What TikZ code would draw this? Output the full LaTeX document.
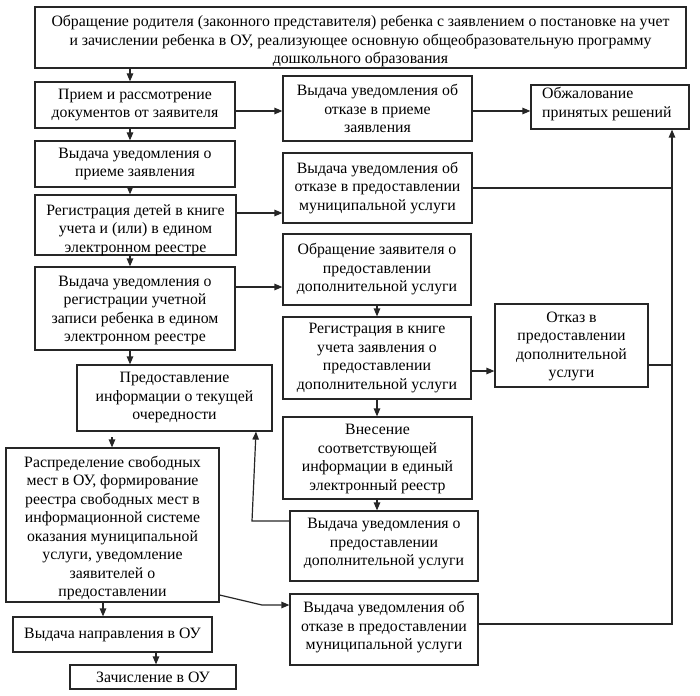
\documentclass[tikz,border=0pt]{standalone}
\usepackage{fontspec}
\setmainfont{Liberation Serif}
\usetikzlibrary{arrows.meta}
\tikzset{
  box/.style={draw=black!85, line width=1.2pt, inner sep=0pt, fill=none},
  txt/.style={align=center, inner sep=0pt, font=\fontsize{15.8}{18.5}\selectfont},
  txtl/.style={align=left, inner sep=0pt, anchor=west, font=\fontsize{15.8}{18.5}\selectfont},
  arr/.style={draw=black!85, line width=1.2pt, -{Triangle[length=8pt,width=6.5pt]}},
  ln/.style={draw=black!85, line width=1.2pt}
}
\newcommand\bx[7]{%
  \pgfmathsetmacro\bxw{#4-#2}\pgfmathsetmacro\bxh{#5-#3}%
  \pgfmathsetmacro\bxcx{(#2+#4)/2}\pgfmathsetmacro\bxcy{(#3+#5)/2}%
  \node[box,minimum width=\bxw pt,minimum height=\bxh pt] (#1) at (\bxcx,\bxcy) {};%
  \node[txt] (#1t) at (\bxcx,\bxcy+#6) {#7};}
\begin{document}
\begin{tikzpicture}[x=1pt,y=-1pt]
\useasboundingbox (0,0) rectangle (700,695);
\bx{T}{35}{7}{686}{68}{4}{Обращение родителя (законного представителя) ребенка с заявлением о постановке на учет\\и зачислении ребенка в ОУ, реализующее основную общеобразовательную программу\\дошкольного образования}
\bx{A}{35}{82}{235}{128}{0}{Прием и рассмотрение\\документов от заявителя}
\bx{B}{283}{76}{472}{141}{0}{Выдача уведомления об\\отказе в приеме\\заявления}
\node[box,minimum width=158pt,minimum height=44pt] (C) at (610,107) {};
\node[txtl] (Ct) at (542,104) {Обжалование\\принятых решений};
\bx{D}{35}{141}{235}{187}{0}{Выдача уведомления о\\приеме заявления}
\bx{E}{35}{195}{236}{255}{5}{Регистрация детей в книге\\учета и (или) в едином\\электронном реестре}
\bx{F}{283}{153}{472}{223}{0}{Выдача уведомления об\\отказе в предоставлении\\муниципальной услуги}
\bx{G}{35}{267}{235}{350}{2}{Выдача уведомления о\\регистрации учетной\\записи ребенка в едином\\электронном реестре}
\bx{H}{283}{234}{471}{305}{0}{Обращение заявителя о\\предоставлении\\дополнительной услуги}
\bx{I}{283}{317}{471}{399}{0}{Регистрация в книге\\учета заявления о\\предоставлении\\дополнительной услуги}
\bx{J}{495}{304}{648}{387}{1}{Отказ в\\предоставлении\\дополнительной\\услуги}
\bx{K}{77}{365}{272}{431}{0}{Предоставление\\информации о текущей\\очередности}
\bx{L}{283}{417}{472}{499}{1}{Внесение\\соответствующей\\информации в единый\\электронный реестр}
\bx{M}{290}{511}{478}{581}{-2}{Выдача уведомления о\\предоставлении\\дополнительной услуги}
\bx{N}{6}{448}{219}{602}{3}{Распределение свободных\\мест в ОУ, формирование\\реестра свободных мест в\\информационной системе\\оказания муниципальной\\услуги, уведомление\\заявителей о\\предоставлении}
\bx{O}{290}{594}{478}{665}{-2}{Выдача уведомления об\\отказе в предоставлении\\муниципальной услуги}
\bx{P}{13}{617}{212}{652}{0}{Выдача направления в ОУ}
\bx{Q}{70}{665}{236}{689}{0}{Зачисление в ОУ}
% helper coordinates
\coordinate (xa) at (130,0);
\coordinate (xm) at (377,0);
\coordinate (xp) at (156,0);
\coordinate (xn) at (103,0);
\coordinate (xr) at (672,0);
\coordinate (kn) at (112,437);
\coordinate (y111) at (0,111);
\coordinate (y213) at (0,213);
\coordinate (y287) at (0,287);
\coordinate (y371) at (0,371);
\coordinate (y188) at (0,188);
\coordinate (y365) at (0,365);
\coordinate (y624) at (0,624);
\coordinate (mk1) at (252,521);
\coordinate (mk2) at (256,0);
\coordinate (no1) at (0,595);
\coordinate (no2) at (262,605);
% connectors
\draw[arr] (T.south -| xa) -- (A.north -| xa);
\draw[arr] (A.east |- y111) -- (B.west |- y111);
\draw[arr] (B.east |- y111) -- (C.west |- y111);
\draw[arr] (A.south -| xa) -- (D.north -| xa);
\draw[arr] (D.south -| xa) -- (E.north -| xa);
\draw[arr] (E.east |- y213) -- (F.west |- y213);
\draw[arr] (E.south -| xa) -- (G.north -| xa);
\draw[arr] (G.east |- y287) -- (H.west |- y287);
\draw[arr] (G.south -| xa) -- (K.north -| xa);
\draw[arr] (H.south -| xm) -- (I.north -| xm);
\draw[arr] (I.east |- y371) -- (J.west |- y371);
\draw[arr] (I.south -| xm) -- (L.north -| xm);
\draw[arr] (L.south -| xm) -- (M.north -| xm);
\draw[arr] (M.west |- mk1) -- (mk1) -- (K.south -| mk2);
\draw[arr] (kn) -- (N.north -| kn);
\draw[arr] (N.east |- no1) -- (no2) -- (O.west |- no2);
\draw[arr] (N.south -| xn) -- (P.north -| xn);
\draw[arr] (P.south -| xp) -- (Q.north -| xp);
\draw[ln] (F.east |- y188) -- (xr |- y188);
\draw[ln] (J.east |- y365) -- (xr |- y365);
\draw[arr] (O.east |- y624) -- (xr |- y624) -- (C.south -| xr);
\end{tikzpicture}
\end{document}
